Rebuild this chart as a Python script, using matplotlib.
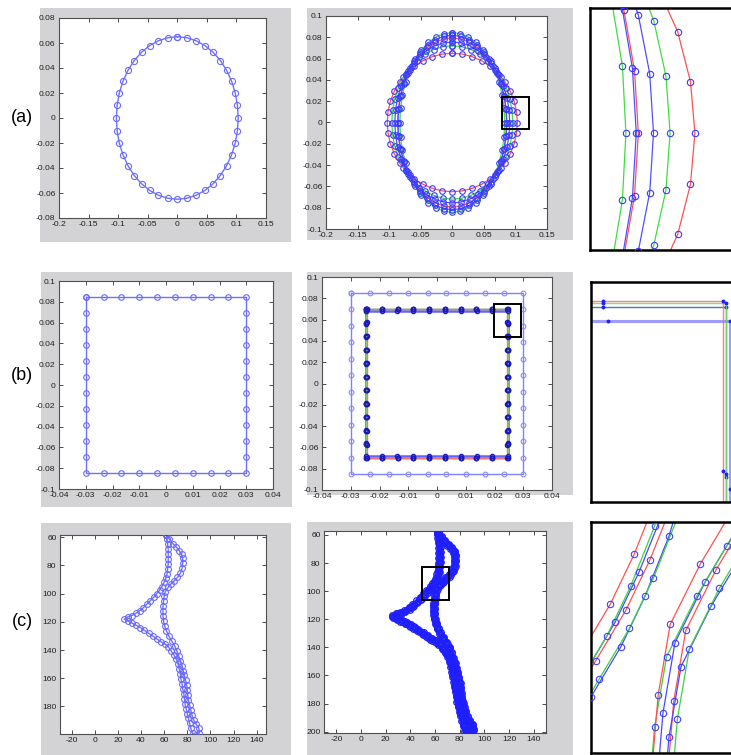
import matplotlib
matplotlib.use("Agg")
import matplotlib.pyplot as plt
from matplotlib.patches import Rectangle
from matplotlib.ticker import FuncFormatter
import numpy as np

plt.rcParams["font.family"] = ["Liberation Sans Narrow", "Liberation Sans", "DejaVu Sans"]

# ---- (a) ellipse contours: initial (red) and evolved ones ----
ell_r1_x = [0, 0.0161, 0.0318, 0.0468, 0.0605, 0.0728, 0.0833, 0.0918, 0.0980, 0.1017, 0.1030, 0.1017, 0.0980, 0.0918, 0.0833, 0.0728, 0.0605, 0.0468, 0.0318, 0.0161,
            0, -0.0161, -0.0318, -0.0468, -0.0605, -0.0728, -0.0833, -0.0918, -0.0980, -0.1017, -0.1030, -0.1017, -0.0980, -0.0918, -0.0833, -0.0728, -0.0605, -0.0468, -0.0318, -0.0161]
ell_r1_y = [0.0650, 0.0642, 0.0618, 0.0579, 0.0526, 0.0460, 0.0382, 0.0295, 0.0201, 0.0102, 0, -0.0102, -0.0201, -0.0295, -0.0382, -0.0460, -0.0526, -0.0579, -0.0618, -0.0642,
            -0.0650, -0.0642, -0.0618, -0.0579, -0.0526, -0.0460, -0.0382, -0.0295, -0.0201, -0.0102, 0, 0.0102, 0.0201, 0.0295, 0.0382, 0.0460, 0.0526, 0.0579, 0.0618, 0.0642]
ell_g1_x = [0, 0.0150, 0.0296, 0.0435, 0.0563, 0.0677, 0.0775, 0.0854, 0.0911, 0.0946, 0.0958, 0.0946, 0.0911, 0.0854, 0.0775, 0.0677, 0.0563, 0.0435, 0.0296, 0.0150,
            0, -0.0150, -0.0296, -0.0435, -0.0563, -0.0677, -0.0775, -0.0854, -0.0911, -0.0946, -0.0958, -0.0946, -0.0911, -0.0854, -0.0775, -0.0677, -0.0563, -0.0435, -0.0296, -0.0150]
ell_g1_y = [0.0720, 0.0711, 0.0685, 0.0642, 0.0582, 0.0509, 0.0423, 0.0327, 0.0222, 0.0113, 0, -0.0113, -0.0222, -0.0327, -0.0423, -0.0509, -0.0582, -0.0642, -0.0685, -0.0711,
            -0.0720, -0.0711, -0.0685, -0.0642, -0.0582, -0.0509, -0.0423, -0.0327, -0.0222, -0.0113, 0, 0.0113, 0.0222, 0.0327, 0.0423, 0.0509, 0.0582, 0.0642, 0.0685, 0.0711]
ell_b1_x = [0, 0.0142, 0.0281, 0.0413, 0.0535, 0.0643, 0.0736, 0.0811, 0.0866, 0.0899, 0.0910, 0.0899, 0.0866, 0.0811, 0.0736, 0.0643, 0.0535, 0.0413, 0.0281, 0.0142,
            0, -0.0142, -0.0281, -0.0413, -0.0535, -0.0643, -0.0736, -0.0811, -0.0866, -0.0899, -0.0910, -0.0899, -0.0866, -0.0811, -0.0736, -0.0643, -0.0535, -0.0413, -0.0281, -0.0142]
ell_b1_y = [0.0756, 0.0747, 0.0719, 0.0674, 0.0612, 0.0535, 0.0444, 0.0343, 0.0234, 0.0118, 0, -0.0118, -0.0234, -0.0343, -0.0444, -0.0535, -0.0612, -0.0674, -0.0719, -0.0747,
            -0.0756, -0.0747, -0.0719, -0.0674, -0.0612, -0.0535, -0.0444, -0.0343, -0.0234, -0.0118, 0, 0.0118, 0.0234, 0.0343, 0.0444, 0.0535, 0.0612, 0.0674, 0.0719, 0.0747]
ell_r2_x = [0, 0.0135, 0.0268, 0.0393, 0.0509, 0.0612, 0.0701, 0.0772, 0.0824, 0.0855, 0.0866, 0.0855, 0.0824, 0.0772, 0.0701, 0.0612, 0.0509, 0.0393, 0.0268, 0.0135,
            0, -0.0135, -0.0268, -0.0393, -0.0509, -0.0612, -0.0701, -0.0772, -0.0824, -0.0855, -0.0866, -0.0855, -0.0824, -0.0772, -0.0701, -0.0612, -0.0509, -0.0393, -0.0268, -0.0135]
ell_r2_y = [0.0794, 0.0784, 0.0755, 0.0707, 0.0642, 0.0561, 0.0467, 0.0360, 0.0245, 0.0124, 0, -0.0124, -0.0245, -0.0360, -0.0467, -0.0561, -0.0642, -0.0707, -0.0755, -0.0784,
            -0.0794, -0.0784, -0.0755, -0.0707, -0.0642, -0.0561, -0.0467, -0.0360, -0.0245, -0.0124, 0, 0.0124, 0.0245, 0.0360, 0.0467, 0.0561, 0.0642, 0.0707, 0.0755, 0.0784]
ell_b2_x = [0, 0.0135, 0.0266, 0.0390, 0.0506, 0.0608, 0.0696, 0.0766, 0.0818, 0.0849, 0.0860, 0.0849, 0.0818, 0.0766, 0.0696, 0.0608, 0.0506, 0.0390, 0.0266, 0.0135,
            0, -0.0135, -0.0266, -0.0390, -0.0506, -0.0608, -0.0696, -0.0766, -0.0818, -0.0849, -0.0860, -0.0849, -0.0818, -0.0766, -0.0696, -0.0608, -0.0506, -0.0390, -0.0266, -0.0135]
ell_b2_y = [0.0819, 0.0809, 0.0779, 0.0730, 0.0663, 0.0579, 0.0481, 0.0372, 0.0253, 0.0128, 0, -0.0128, -0.0253, -0.0372, -0.0481, -0.0579, -0.0663, -0.0730, -0.0779, -0.0809,
            -0.0819, -0.0809, -0.0779, -0.0730, -0.0663, -0.0579, -0.0481, -0.0372, -0.0253, -0.0128, 0, 0.0128, 0.0253, 0.0372, 0.0481, 0.0579, 0.0663, 0.0730, 0.0779, 0.0809]
ell_g2_x = [0, 0.0130, 0.0256, 0.0377, 0.0488, 0.0587, 0.0671, 0.0740, 0.0789, 0.0820, 0.0830, 0.0820, 0.0789, 0.0740, 0.0671, 0.0587, 0.0488, 0.0377, 0.0256, 0.0130,
            0, -0.0130, -0.0256, -0.0377, -0.0488, -0.0587, -0.0671, -0.0740, -0.0789, -0.0820, -0.0830, -0.0820, -0.0789, -0.0740, -0.0671, -0.0587, -0.0488, -0.0377, -0.0256, -0.0130]
ell_g2_y = [0.0844, 0.0834, 0.0803, 0.0752, 0.0683, 0.0597, 0.0496, 0.0383, 0.0261, 0.0132, 0, -0.0132, -0.0261, -0.0383, -0.0496, -0.0597, -0.0683, -0.0752, -0.0803, -0.0834,
            -0.0844, -0.0834, -0.0803, -0.0752, -0.0683, -0.0597, -0.0496, -0.0383, -0.0261, -0.0132, 0, 0.0132, 0.0261, 0.0383, 0.0496, 0.0597, 0.0683, 0.0752, 0.0803, 0.0834]

ell_contours = [(ell_r1_x, ell_r1_y, "#ff5050"), (ell_g1_x, ell_g1_y, "#40dd40"), (ell_b1_x, ell_b1_y, "#5050ff"),
                (ell_r2_x, ell_r2_y, "#ff5050"), (ell_b2_x, ell_b2_y, "#5050ff"), (ell_g2_x, ell_g2_y, "#40dd40")]
ell_box = (0.079, -0.0063, 0.042, 0.0304)

# ---- (b) square contours ----
sq_top_x = [-0.030, -0.0233, -0.0167, -0.010, -0.0033, 0.0033, 0.010, 0.0167, 0.0233, 0.030]
sq_side_y = [0.085, 0.0695, 0.054, 0.0386, 0.0232, 0.0077, -0.0077, -0.0232, -0.0386, -0.054, -0.0695, -0.085]

inner_red_x = [-0.0245, -0.0191, -0.0136, -0.0082, -0.0027, 0.0027, 0.0082, 0.0136, 0.0191, 0.0245]
inner_red_y = [0.0700, 0.0573, 0.0445, 0.0318, 0.0191, 0.0064, -0.0064, -0.0191, -0.0318, -0.0445, -0.0573, -0.0700]
inner_green_x = [-0.0246, -0.0191, -0.0137, -0.0082, -0.0027, 0.0027, 0.0082, 0.0137, 0.0191, 0.0246]
inner_green_y = [0.0698, 0.0571, 0.0444, 0.0317, 0.0190, 0.0063, -0.0063, -0.0190, -0.0317, -0.0444, -0.0571, -0.0698]
inner_teal_x = [-0.0246, -0.0191, -0.0137, -0.0082, -0.0027, 0.0027, 0.0082, 0.0137, 0.0191, 0.0246]
inner_teal_y = [0.0695, 0.0569, 0.0442, 0.0316, 0.0190, 0.0063, -0.0063, -0.0190, -0.0316, -0.0442, -0.0569, -0.0695]
inner_blue_x = [-0.0248, -0.0193, -0.0138, -0.0083, -0.0028, 0.0028, 0.0083, 0.0138, 0.0193, 0.0248]
inner_blue_y = [0.0685, 0.0560, 0.0436, 0.0311, 0.0187, 0.0062, -0.0062, -0.0187, -0.0311, -0.0436, -0.0560, -0.0685]
sq_box = (0.0197, 0.0433, 0.0095, 0.0313)

# ---- (c) free-form contour (image coordinates, y downwards) ----
shape_x = [62.0, 64.5, 67.5, 70.5, 73.0, 75.0, 76.0, 76.0, 75.5, 74.0,
           71.5, 68.5, 66.0, 63.5, 61.0, 60.0, 59.5, 59.0, 59.0, 59.0,
           59.5, 60.5, 62.0, 64.0, 66.5, 69.0, 71.0, 72.5, 74.0, 75.5,
           76.5, 77.5, 78.5, 79.5, 80.0, 80.5, 81.0, 82.0, 83.0, 84.0,
           85.5, 87.5, 90.0, 90.5, 87.5, 84.5, 83.0, 82.0, 81.0, 80.0,
           79.0, 78.0, 77.5, 77.0, 76.0, 75.5, 74.5, 74.0, 73.0, 72.0,
           70.5, 68.5, 66.0, 63.5, 60.5, 57.0, 53.5, 50.0, 46.5, 43.0,
           39.5, 36.0, 32.5, 29.0, 25.5, 28.5, 32.0, 35.5, 39.0, 42.0,
           45.0, 48.0, 51.0, 53.5, 56.0, 58.0, 60.0, 61.5, 62.5, 63.0,
           63.5, 63.5, 63.5, 63.5, 63.0, 62.5]
shape_y = [58.3, 61.5, 64.5, 67.0, 69.5, 72.0, 75.0, 78.5, 82.0, 85.5,
           88.5, 91.0, 93.0, 95.5, 98.5, 102.0, 105.5, 109.0, 112.5, 116.0,
           119.5, 123.0, 126.5, 130.0, 133.5, 137.0, 140.5, 144.0, 147.5, 151.0,
           154.5, 158.0, 161.5, 165.0, 168.5, 172.0, 175.5, 179.0, 182.5, 186.0,
           189.5, 192.5, 195.5, 198.5, 200.0, 199.0, 195.5, 192.0, 188.5, 185.0,
           181.5, 178.0, 174.5, 171.0, 167.5, 164.0, 160.5, 157.0, 153.5, 150.0,
           146.5, 143.5, 140.5, 137.5, 135.5, 134.0, 132.0, 130.0, 128.0, 126.0,
           124.0, 122.5, 121.0, 119.5, 118.0, 116.5, 115.5, 114.0, 112.0, 110.0,
           107.5, 105.0, 102.5, 100.0, 97.5, 95.0, 92.0, 89.0, 86.0, 82.5,
           79.0, 75.5, 72.0, 68.5, 65.0, 61.5]
# displacement of each evolved contour relative to the initial shape
evolved_dx = [0.0, 0.9, -0.7, 0.5, -0.4, 1.2]
evolved_dy = [0.0, -0.6, 0.7, 1.2, -0.9, 0.3]
evolved_colors = ["#4848ff", "#ff5050", "#40d040", "#4848ff", "#ff5050", "#40d040"]
shape_box = (49.6, 82.6, 21.9, 23.7)

GREY = "#d3d3d5"
W, H = 731, 755
fig = plt.figure(figsize=(W / 100, H / 100), dpi=100)
fig.patch.set_facecolor("white")


def px_axes(left, top, right, bottom):
    return fig.add_axes([left / W, 1 - bottom / H, (right - left) / W, (bottom - top) / H])


def grey_panel(left, top, right, bottom):
    fig.add_artist(Rectangle((left / W, 1 - bottom / H), (right - left) / W, (bottom - top) / H,
                             transform=fig.transFigure, facecolor=GREY, edgecolor="none", zorder=-5))


def fmt(v, pos=None):
    if abs(v) < 1e-9:
        return "0"
    return "%g" % round(v, 4)


def matlab_axes(ax, xlim, ylim, xticks, yticks, flip_y=False):
    ax.set_xlim(xlim)
    ax.set_ylim(ylim[::-1] if flip_y else ylim)
    ax.set_xticks(xticks)
    ax.set_yticks(yticks)
    ax.xaxis.set_major_formatter(FuncFormatter(fmt))
    ax.yaxis.set_major_formatter(FuncFormatter(fmt))
    ax.tick_params(direction="in", top=True, right=True, length=3, width=0.6,
                   labelsize=6.1, pad=2.5, colors="#303030", labelcolor="#202020")
    for s in ax.spines.values():
        s.set_linewidth(0.8)
        s.set_color("#505050")


def zoom_axes(ax, xlim, ylim):
    ax.set_xlim(xlim)
    ax.set_ylim(ylim)
    ax.set_xticks([])
    ax.set_yticks([])
    for s in ax.spines.values():
        s.set_linewidth(1.8)
        s.set_color("black")


def closed(v):
    return np.append(v, v[0])


def square_path(top_x, side_y):
    xs = list(top_x) + [top_x[-1]] * 10 + list(top_x[::-1]) + [top_x[0]] * 10
    ys = [side_y[0]] * 10 + list(side_y[1:-1]) + [side_y[-1]] * 10 + list(side_y[-2:0:-1])
    return closed(np.array(xs)), closed(np.array(ys))


def draw_contour(ax, x, y, color, lw=0.9, mcolor="#3a3aff", ms=3.8, mew=0.8, alpha=1.0):
    ax.plot(x, y, "-", color=color, lw=lw, alpha=alpha, zorder=2)
    ax.plot(x, y, "o", mfc="none", mec=mcolor, ms=ms, mew=mew, zorder=3)


# grey figure backgrounds of the six plots
grey_panel(40, 8, 291, 242)
grey_panel(307, 8, 573, 240)
grey_panel(41, 272, 292, 507)
grey_panel(307, 272, 573, 495)
grey_panel(41, 523, 291, 755)
grey_panel(307, 522, 573, 755)

for lbl, yc in [("(a)", 117), ("(b)", 375), ("(c)", 621)]:
    fig.text(22 / W, 1 - yc / H, lbl, ha="center", va="center", fontsize=13,
             family=["Liberation Sans", "DejaVu Sans"])

# (a) left: initial ellipse
ax = px_axes(59, 18, 266, 218)
draw_contour(ax, closed(ell_r1_x), closed(ell_r1_y), "#7070ff", lw=1.0, mcolor="#6a6aff", ms=4.4)
matlab_axes(ax, (-0.2, 0.15), (-0.08, 0.08), np.arange(-0.2, 0.151, 0.05), np.arange(-0.08, 0.081, 0.02))

# (a) middle: evolution of the ellipse
ax = px_axes(326, 16, 547, 229)
for x, y, c in ell_contours:
    draw_contour(ax, closed(x), closed(y), c, lw=0.9, ms=4.0)
ax.add_patch(Rectangle(ell_box[:2], ell_box[2], ell_box[3], fill=False, ec="black", lw=1.4, zorder=4))
matlab_axes(ax, (-0.2, 0.15), (-0.1, 0.1), np.arange(-0.2, 0.151, 0.05), np.arange(-0.1, 0.101, 0.02))

# (a) right: zoom on the right side of the ellipses
ax = px_axes(590, 8, 794, 250)
for x, y, c in ell_contours:
    draw_contour(ax, closed(x), closed(y), c, lw=0.9, ms=4.6)
zoom_axes(ax, (0.0726, 0.1317), (-0.0232, 0.0248))

# (b) left: initial square
ax = px_axes(59, 281, 273, 489)
sx, sy = square_path(sq_top_x, sq_side_y)
draw_contour(ax, sx, sy, "#7070ff", lw=1.0, mcolor="#6a6aff", ms=4.0)
matlab_axes(ax, (-0.04, 0.04), (-0.1, 0.1), np.arange(-0.04, 0.041, 0.01), np.arange(-0.1, 0.101, 0.02))

# (b) middle: initial square and shrunk squares
inner = [(inner_blue_x, inner_blue_y, "#3c3cff", 1.8, 0.8),
         (inner_teal_x, inner_teal_y, "#2f6fa8", 1.0, 1.0),
         (inner_green_x, inner_green_y, "#70dd70", 1.0, 1.0),
         (inner_red_x, inner_red_y, "#ff7070", 1.0, 1.0)]
ax = px_axes(322, 277, 552, 490)
draw_contour(ax, sx, sy, "#8080ff", lw=1.0, mcolor="#8a8aff", ms=3.4)
for tx, ty, c, lw, a in inner:
    ix, iy = square_path(tx, ty)
    draw_contour(ax, ix, iy, c, lw=lw, mcolor="#1a1ab8", ms=3.0, mew=1.0, alpha=a)
ax.add_patch(Rectangle(sq_box[:2], sq_box[2], sq_box[3], fill=False, ec="black", lw=1.4, zorder=4))
matlab_axes(ax, (-0.04, 0.04), (-0.1, 0.1), np.arange(-0.04, 0.041, 0.01), np.arange(-0.1, 0.101, 0.02))

# (b) right: zoom on the upper right corner
ax = px_axes(591, 282, 771, 502)
for tx, ty, c, lw, a in inner:
    ix, iy = square_path(tx, ty)
    ax.plot(ix, iy, "-", color=c, lw=2.2 if lw > 1.5 else lw, alpha=0.5 if lw > 1.5 else 0.9)
    ax.plot(ix, iy, "o", color="#2020ff", ms=1.8)
zoom_axes(ax, (0.01854, 0.02665), (0.05502, 0.07139))

# (c) left: initial free-form contour
ax = px_axes(60, 535, 266, 734)
draw_contour(ax, closed(shape_x), closed(shape_y), "#7070ff", lw=1.0, mcolor="#6a6aff", ms=4.2)
matlab_axes(ax, (-30, 148), (58.4, 199.5), np.arange(-20, 141, 20), np.arange(60, 181, 20), flip_y=True)

# (c) middle: evolved contours
ax = px_axes(324, 531, 546, 733)
for dx, dy, c in zip(evolved_dx, evolved_dy, evolved_colors):
    draw_contour(ax, closed(shape_x) + dx, closed(shape_y) + dy, c, lw=0.9,
                 mcolor="#1f1fff", ms=4.0, mew=0.9)
ax.add_patch(Rectangle(shape_box[:2], shape_box[2], shape_box[3], fill=False, ec="black", lw=1.4, zorder=4))
matlab_axes(ax, (-30, 150), (57.2, 201), np.arange(-20, 141, 20), np.arange(60, 201, 20), flip_y=True)

# (c) right: zoom on the crossing of the two branches
ax = px_axes(591, 522, 780, 753)
for dx, dy, c in zip(evolved_dx, evolved_dy, evolved_colors):
    draw_contour(ax, closed(shape_x) + dx, closed(shape_y) + dy, c, lw=0.9,
                 mcolor="#4040ff", ms=4.6, mew=0.8)
zoom_axes(ax, (54, 69.75), (104, 92.5))

fig.savefig("out.png", dpi=100, facecolor="white")
